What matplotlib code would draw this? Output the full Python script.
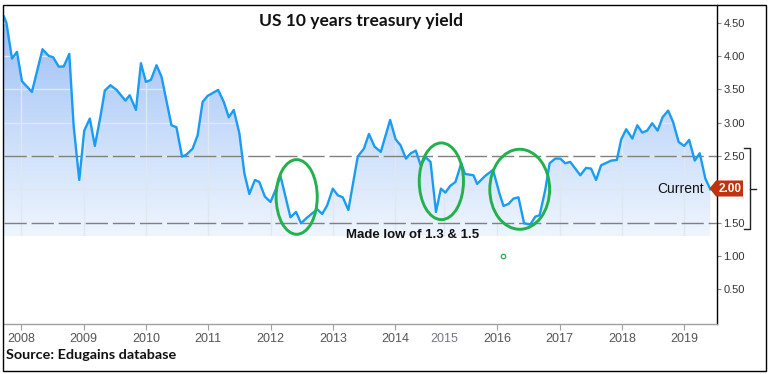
import numpy as np
import matplotlib
matplotlib.use('Agg')
import matplotlib.pyplot as plt
from matplotlib.patches import Polygon, Ellipse, Rectangle
from matplotlib.colors import LinearSegmentedColormap
from matplotlib.lines import Line2D

# monthly-ish readings, decimal years
dates = [2007.72, 2007.76, 2007.85, 2007.93, 2008.01, 2008.17, 2008.34, 2008.44, 2008.51, 2008.60, 2008.68, 2008.77, 2008.84, 2008.93,
         2009.01, 2009.10, 2009.18, 2009.27, 2009.34, 2009.43, 2009.53, 2009.67, 2009.74, 2009.84, 2009.92,
         2010.00, 2010.08, 2010.17, 2010.25, 2010.41, 2010.49, 2010.58, 2010.65, 2010.75, 2010.83, 2010.91, 2010.99,
         2011.16, 2011.25, 2011.33, 2011.41, 2011.50, 2011.58, 2011.66, 2011.75, 2011.82, 2011.91,
         2012.00, 2012.09, 2012.16, 2012.32, 2012.41, 2012.49, 2012.58, 2012.75, 2012.83, 2012.91,
         2013.00, 2013.08, 2013.16, 2013.25, 2013.40, 2013.50, 2013.58, 2013.67, 2013.77, 2013.92,
         2014.01, 2014.11, 2014.22, 2014.32, 2014.42, 2014.52, 2014.62, 2014.72, 2014.83, 2014.93,
         2015.02, 2015.11, 2015.21, 2015.32, 2015.39, 2015.55, 2015.62, 2015.77, 2015.92,
         2016.04, 2016.10, 2016.18, 2016.26, 2016.34, 2016.43, 2016.53, 2016.61, 2016.68, 2016.77, 2016.84, 2016.93,
         2017.01, 2017.09, 2017.17, 2017.33, 2017.42, 2017.50, 2017.58, 2017.66, 2017.82, 2017.91, 2017.98,
         2018.06, 2018.16, 2018.24, 2018.32, 2018.40, 2018.48, 2018.57, 2018.65, 2018.74, 2018.82, 2018.91,
         2019.00, 2019.08, 2019.17, 2019.25, 2019.34, 2019.42]

yields = [4.59, 4.50, 3.96, 4.06, 3.62, 3.46, 4.10, 4.00, 3.98, 3.84, 3.84, 4.03, 2.95, 2.14,
          2.88, 3.06, 2.65, 3.09, 3.48, 3.56, 3.49, 3.33, 3.41, 3.19, 3.89,
          3.61, 3.64, 3.86, 3.69, 2.96, 2.93, 2.49, 2.52, 2.61, 2.81, 3.31, 3.40,
          3.49, 3.31, 3.08, 3.19, 2.84, 2.24, 1.93, 2.14, 2.11, 1.89,
          1.81, 2.01, 2.20, 1.58, 1.66, 1.49, 1.57, 1.70, 1.63, 1.76,
          2.01, 1.91, 1.88, 1.69, 2.49, 2.61, 2.83, 2.64, 2.56, 3.04,
          2.75, 2.66, 2.46, 2.54, 2.58, 2.36, 2.48, 2.41, 1.66, 2.01,
          1.95, 2.05, 2.11, 2.39, 2.23, 2.21, 2.08, 2.20, 2.29,
          1.92, 1.75, 1.78, 1.86, 1.88, 1.49, 1.47, 1.59, 1.61, 1.99, 2.39, 2.46,
          2.46, 2.39, 2.41, 2.21, 2.32, 2.31, 2.14, 2.36, 2.43, 2.44, 2.75,
          2.90, 2.76, 2.96, 2.85, 2.88, 2.99, 2.88, 3.08, 3.18, 3.01, 2.71,
          2.65, 2.74, 2.43, 2.54, 2.16, 2.00]

years = list(range(2008, 2020))
# ordinal axis: 2014-2016 is squeezed in the source chart
year_slots = [0, 1, 2, 3, 4, 5, 6, 6.79, 7.64, 8.64, 9.65, 10.64]

levels = [2.5, 1.5]
circled = [(2012.42, 1.885, 0.66, 1.12), (2014.94, 2.12, 0.71, 1.15), (2016.36, 2.0, 0.96, 1.2)]


def to_pos(d):
    return np.interp(d, [2007] + years + [2020], [-1] + year_slots + [11.64])


W, H = 770, 374
fig = plt.figure(figsize=(W / 100, H / 100), dpi=100)
plt.rcParams['font.family'] = ['Liberation Sans', 'DejaVu Sans']
ax = fig.add_axes([4 / W, 1 - 324 / H, 713 / W, 319 / H])

x = to_pos(np.array(dates))
y = np.array(yields)
base = 1.3

verts = [(x[0], base)] + list(zip(x, y)) + [(x[-1], base)]
area = Polygon(verts, closed=True, facecolor='none', edgecolor='none')
ax.add_patch(area)

cmap = LinearSegmentedColormap.from_list('fade', ['#eef5fe', '#c6dbfa', '#98bdf5'])
grad = np.linspace(0, 1, 256).reshape(-1, 1)
img = ax.imshow(grad, extent=[-0.3, 11.2, base, 4.65], origin='lower', aspect='auto',
                cmap=cmap, zorder=1, interpolation='bilinear')
img.set_clip_path(area)

# faint grid, only visible inside the shaded area
for s in year_slots:
    gl = ax.axvline(s, color='#dfe7f1', lw=1, zorder=2)
    gl.set_clip_path(area)
for v in np.arange(2.0, 4.6, 0.5):
    gl = ax.axhline(v, color='#dfe7f1', lw=1, zorder=2)
    gl.set_clip_path(area)

for lv in levels:
    ax.axhline(lv, color='#808080', lw=1.0, dashes=(16, 3.5), zorder=3)

ax.plot(x, y, color='#1a9cf2', lw=1.7, zorder=5, solid_joinstyle='round')

for d, v, w, h in circled:
    ax.add_patch(Ellipse((to_pos(d), v), w, h, fill=False, ec='#22b14c', lw=2.1, zorder=6))
ax.plot(to_pos(2016.09), 1.0, 'o', mfc='none', mec='#22b14c', ms=3.2, mew=0.9, zorder=6)

ax.text(to_pos(2014.35), 1.31, 'Made low of 1.3 & 1.5', ha='center', va='center',
        fontsize=9.5, weight='bold', color='#111111', zorder=7)
ax.text(to_pos(2019.31), yields[-1], 'Current', ha='right', va='center',
        fontsize=10, weight='medium', color='#111111', zorder=7)

ax.set_xlim(-0.278, 11.167)
ax.set_ylim(-0.02, 4.763)

for side in ['left', 'top']:
    ax.spines[side].set_visible(False)
ax.spines['right'].set_color('black')
ax.spines['right'].set_linewidth(1)
ax.spines['bottom'].set_color('#a0a0a0')
ax.spines['bottom'].set_linewidth(1)

ax.yaxis.tick_right()
yt = np.arange(0.5, 4.51, 0.5)
# the 2.00 label sits under the price tag
ax.set_yticks(yt, ['' if abs(v - 2.0) < 1e-9 else f'{v:.2f}' for v in yt])
ax.tick_params(axis='y', direction='out', length=3, color='#888888', pad=1.5,
               labelsize=8, labelcolor='#333333')
ax.set_xticks(year_slots, [str(yr) for yr in years])
ax.tick_params(axis='x', direction='out', length=4.5, color='#a0a0a0', pad=2,
               labelsize=9, labelcolor='#555555')
ax.xaxis.get_major_ticks()[7].tick1line.set_visible(False)
ax.get_xticklabels()[7].set_color('#7d7288')


def fx(px):
    return px / W


def fy(py):
    return 1 - py / H


fig.text(fx(361.5), fy(21), 'US 10 years treasury yield', ha='center', va='center',
         fontsize=12.6, weight='bold', family='Lato', color='#111111')
fig.text(fx(6), fy(355), 'Source: Edugains database', ha='left', va='center',
         fontsize=10.4, weight='bold', family='Lato', color='#111111')

# price tag for the last value
tag = Polygon([(fx(709.5), fy(188.5)), (fx(716), fy(180.5)), (fx(743), fy(180.5)),
               (fx(743), fy(196.5)), (fx(716), fy(196.5))], closed=True,
              transform=fig.transFigure, facecolor='#c0330f', edgecolor='none')
fig.add_artist(tag)
fig.text(fx(730), fy(188.5), f'{yields[-1]:.2f}', ha='center', va='center',
         fontsize=8.5, weight='bold', color='white')

# bracket on the right
fig.add_artist(Line2D([fx(744), fx(750), fx(750), fx(744)], [fy(148.3), fy(148.3), fy(229.3), fy(229.3)],
                      transform=fig.transFigure, color='#222222', lw=1))
fig.add_artist(Line2D([fx(750), fx(755.5)], [fy(189), fy(189)],
                      transform=fig.transFigure, color='#222222', lw=1))

fig.add_artist(Rectangle((fx(3), fy(370.5)), (765.5 - 3) / W, (370.5 - 5) / H, transform=fig.transFigure,
                         fill=False, edgecolor='black', lw=1))

fig.savefig('out.png', dpi=100)
